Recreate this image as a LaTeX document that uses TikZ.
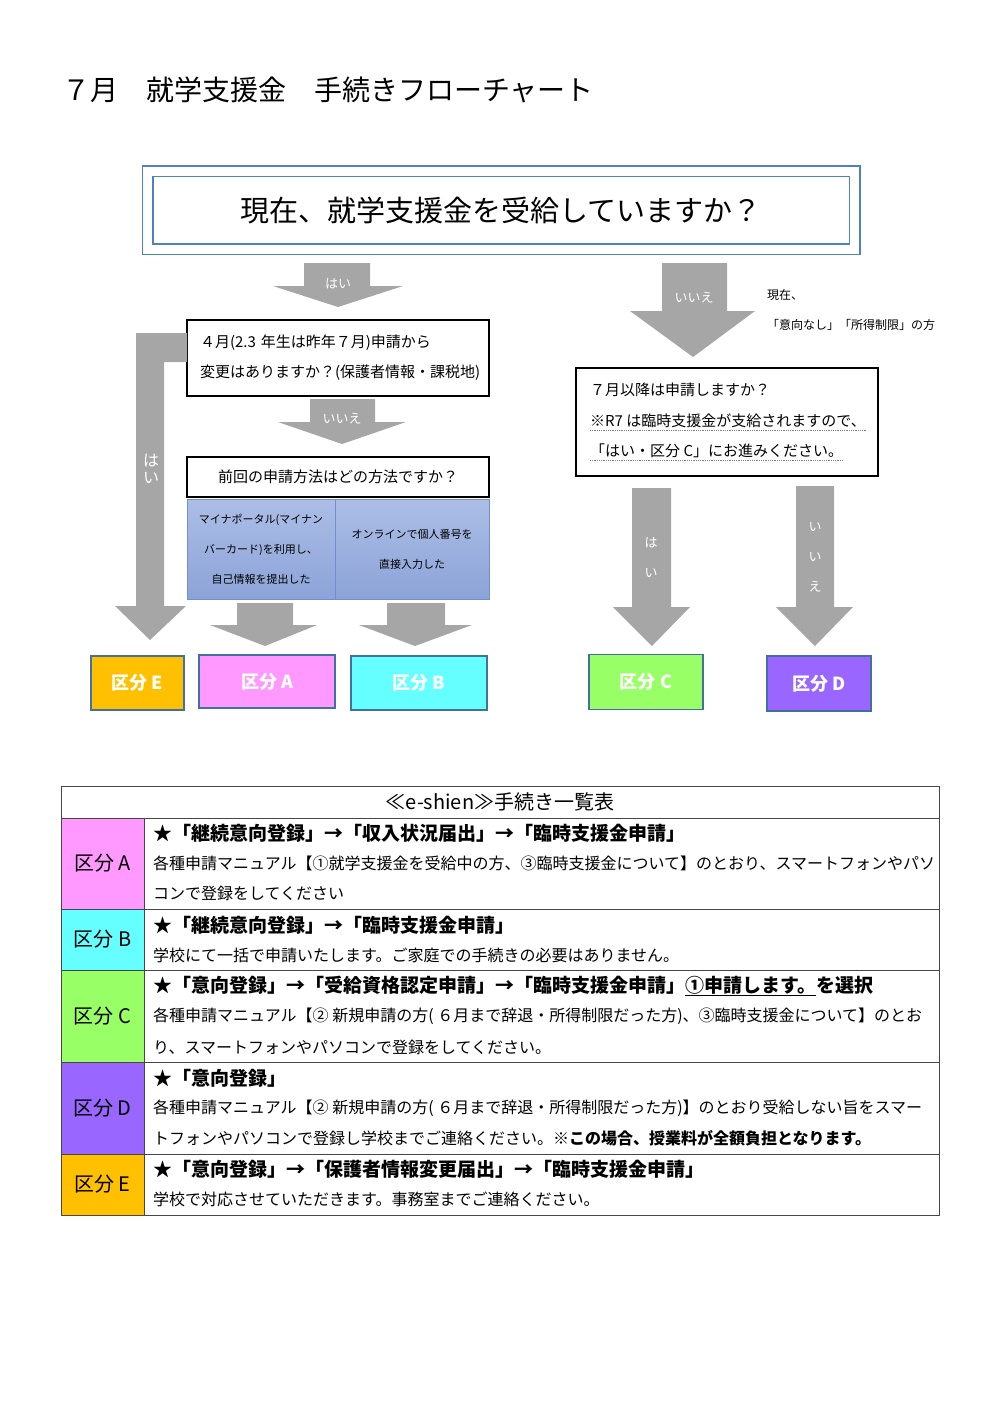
\documentclass[tikz,border=0pt]{standalone}
\usepackage{fontspec}
\setmainfont{Noto Sans CJK JP}
\usepackage{tikz}

\definecolor{qblue}{RGB}{79,129,189}
\definecolor{garrowc}{RGB}{166,166,166}
\definecolor{kborder}{RGB}{65,113,156}
\definecolor{gtop}{RGB}{172,190,230}
\definecolor{gbot}{RGB}{140,163,216}
\definecolor{gline}{RGB}{111,143,207}
\definecolor{tline}{RGB}{70,70,70}
\definecolor{kA}{HTML}{FF99FF}
\definecolor{kB}{HTML}{66FFFF}
\definecolor{kC}{HTML}{99FF66}
\definecolor{kD}{HTML}{9966FF}
\definecolor{kE}{HTML}{FFC000}

\newcommand\fsz[2]{\fontsize{#1}{#2}\selectfont}

\tikzset{
  garrow/.style={fill=garrowc},
  alabel/.style={text=white, inner sep=0, font=\fsz{13}{30}, align=center},
  qbox/.style={draw=black, line width=1.6pt, fill=white, inner sep=0},
  gcell/.style={draw=gline, line width=0.8pt, top color=gtop, bottom color=gbot,
    minimum height=100pt, inner sep=0, align=center, font=\fsz{11}{30}},
  katbox/.style={draw=kborder, line width=1.6pt, text=white, inner sep=0,
    font=\bfseries\fsz{18}{20}},
  cell/.style={draw=tline, line width=0.9pt, inner sep=0},
  catcell/.style={cell, minimum width=83pt, font=\fsz{20}{22}},
  txt/.style={anchor=west, inner sep=0, font=\fsz{16}{18}},
  btxt/.style={anchor=west, inner sep=0, font=\bfseries\fsz{19}{22}},
}

\begin{document}
\begin{tikzpicture}[x=1pt,y=-1pt]
\useasboundingbox (0,0) rectangle (1000,1414);

% title
\node[anchor=west, inner sep=0, font=\fsz{28}{30}] (title) at (62,90) {７月　就学支援金　手続きフローチャート};

% first question
\node[draw=qblue, line width=1.5pt, double=white, double distance=9pt,
  minimum width=707pt, minimum height=78pt, inner sep=0, font=\fsz{29}{31}]
  (q0) at (501,210) {現在、就学支援金を受給していますか？};

% left branch
\fill[garrow] (304,263) -- (370,263) -- (370,286) -- (403,286) -- (338,307) -- (273,286) -- (304,286) -- cycle;
\node[alabel] (yes0) at (338,284) {はい};

\node[qbox, minimum width=302pt, minimum height=76pt, text width=276pt, inner xsep=13pt,
  align=left, font=\fsz{15}{30}] (q1) at (338,358)
  {４月(2.3 年生は昨年７月)申請から\\変更はありますか？(保護者情報・課税地)};

\fill[garrow] (136,333) -- (187,333) -- (187,362) -- (164,362) -- (164,606) -- (186,606) -- (150,640) -- (115,606) -- (136,606) -- cycle;
\node[alabel, font=\fsz{16}{17}] (yes1) at (151,469) {は\\い};

\fill[garrow] (310,399) -- (375,399) -- (375,422) -- (406,422) -- (342,444) -- (278,422) -- (310,422) -- cycle;
\node[alabel] (no1) at (342,419) {いいえ};

\node[qbox, minimum width=302pt, minimum height=40pt, font=\fsz{15}{17}] (q2) at (338,477) {前回の申請方法はどの方法ですか？};
\node[gcell, minimum width=148pt] (m1) at (261,549) {マイナポータル(マイナン\\バーカード)を利用し、\\自己情報を提出した};
\node[gcell, minimum width=154pt] (m2) at (412,549) {オンラインで個人番号を\\直接入力した};

\fill[garrow] (237,603) -- (293,603) -- (293,625) -- (317,625) -- (265,646) -- (210,625) -- (237,625) -- cycle;
\fill[garrow] (387,603) -- (445,603) -- (445,625) -- (472,625) -- (415,646) -- (359,625) -- (387,625) -- cycle;

\node[katbox, fill=kE, minimum width=93pt, minimum height=54pt] (kE) at (137.5,683) {区分 E};
\node[katbox, fill=kA, minimum width=136pt, minimum height=53pt] (kA) at (267,681.5) {区分 A};
\node[katbox, fill=kB, minimum width=136pt, minimum height=54pt] (kB) at (419,683) {区分 B};

% right branch
\fill[garrow] (662,263) -- (727,263) -- (727,311) -- (755,311) -- (693,357) -- (630,311) -- (662,311) -- cycle;
\node[alabel] (no0) at (694,298) {いいえ};
\node[anchor=west, inner sep=0, font=\fsz{12}{14}] (note1) at (767,295) {現在、};
\node[anchor=west, inner sep=0, font=\fsz{12}{14}] (note2) at (767,325) {「意向なし」「所得制限」の方};

\node[qbox, minimum width=302pt, minimum height=108pt] (q3) at (727,422) {};
\node[txt, font=\fsz{15}{17}] (q3a) at (590,390) {７月以降は申請しますか？};
\node[txt, font=\fsz{15}{17}] (q3b) at (590,421) {※R7 は臨時支援金が支給されますので、};
\node[txt, font=\fsz{15}{17}] (q3c) at (590,451) {「はい・区分 C」にお進みください。};
\draw[gray, densely dotted, line width=0.8pt] ([yshift=-2pt]q3b.south west) -- ([yshift=-2pt]q3b.south east);
\draw[gray, densely dotted, line width=0.8pt] ([yshift=-2pt]q3c.south west) -- ([yshift=-2pt]q3c.south east);

\fill[garrow] (632,488) -- (671,488) -- (671,607) -- (690,607) -- (652,646) -- (613,607) -- (632,607) -- cycle;
\node[alabel] (yes3) at (651,558) {は\\い};
\fill[garrow] (796,486) -- (834,486) -- (834,607) -- (853,607) -- (815,646) -- (776,607) -- (796,607) -- cycle;
\node[alabel] (no3) at (815,557) {い\\い\\え};

\node[katbox, fill=kC, minimum width=114pt, minimum height=55pt] (kC) at (646,682) {区分 C};
\node[katbox, fill=kD, minimum width=104pt, minimum height=55pt] (kD) at (819,683.5) {区分 D};

% table
\node[cell, minimum width=878pt, minimum height=32pt, font=\fsz{20}{22}] (hd) at (500,802) {≪e-shien≫手続き一覧表};
\node[catcell, fill=kA, minimum height=91pt] (tA) at (102.5,863.5) {区分 A};
\node[catcell, fill=kB, minimum height=61pt] (tB) at (102.5,939.5) {区分 B};
\node[catcell, fill=kC, minimum height=92pt] (tC) at (102.5,1016) {区分 C};
\node[catcell, fill=kD, minimum height=92pt] (tD) at (102.5,1108) {区分 D};
\node[catcell, fill=kE, minimum height=61pt] (tE) at (102.5,1184.5) {区分 E};
\node[cell, minimum width=795pt, minimum height=91pt] (rA) at (541.5,863.5) {};
\node[cell, minimum width=795pt, minimum height=61pt] (rB) at (541.5,939.5) {};
\node[cell, minimum width=795pt, minimum height=92pt] (rC) at (541.5,1016) {};
\node[cell, minimum width=795pt, minimum height=92pt] (rD) at (541.5,1108) {};
\node[cell, minimum width=795pt, minimum height=61pt] (rE) at (541.5,1184.5) {};

\node[btxt] (a1) at (153,833) {★「継続意向登録」→「収入状況届出」→「臨時支援金申請」};
\node[txt] (a2) at (153,863) {各種申請マニュアル【①就学支援金を受給中の方、③臨時支援金について】のとおり、スマートフォンやパソ};
\node[txt] (a3) at (153,893) {コンで登録をしてください};

\node[btxt] (b1) at (153,925) {★「継続意向登録」→「臨時支援金申請」};
\node[txt] (b2) at (153,955) {学校にて一括で申請いたします。ご家庭での手続きの必要はありません。};

\node[btxt] (c1) at (153,986) {★「意向登録」→「受給資格認定申請」→「臨時支援金申請」\underline{①申請します。}を選択};
\node[txt] (c2) at (153,1016) {各種申請マニュアル【② 新規申請の方( ６月まで辞退・所得制限だった方)、③臨時支援金について】のとお};
\node[txt] (c3) at (153,1047) {り、スマートフォンやパソコンで登録をしてください。};

\node[btxt] (d1) at (153,1078) {★「意向登録」};
\node[txt] (d2) at (153,1108) {各種申請マニュアル【② 新規申請の方( ６月まで辞退・所得制限だった方)】のとおり受給しない旨をスマー};
\node[txt] (d3) at (153,1138) {トフォンやパソコンで登録し学校までご連絡ください。\textbf{※この場合、授業料が全額負担となります。}};

\node[btxt] (e1) at (153,1169) {★「意向登録」→「保護者情報変更届出」→「臨時支援金申請」};
\node[txt] (e2) at (153,1199) {学校で対応させていただきます。事務室までご連絡ください。};

\end{tikzpicture}
\end{document}
